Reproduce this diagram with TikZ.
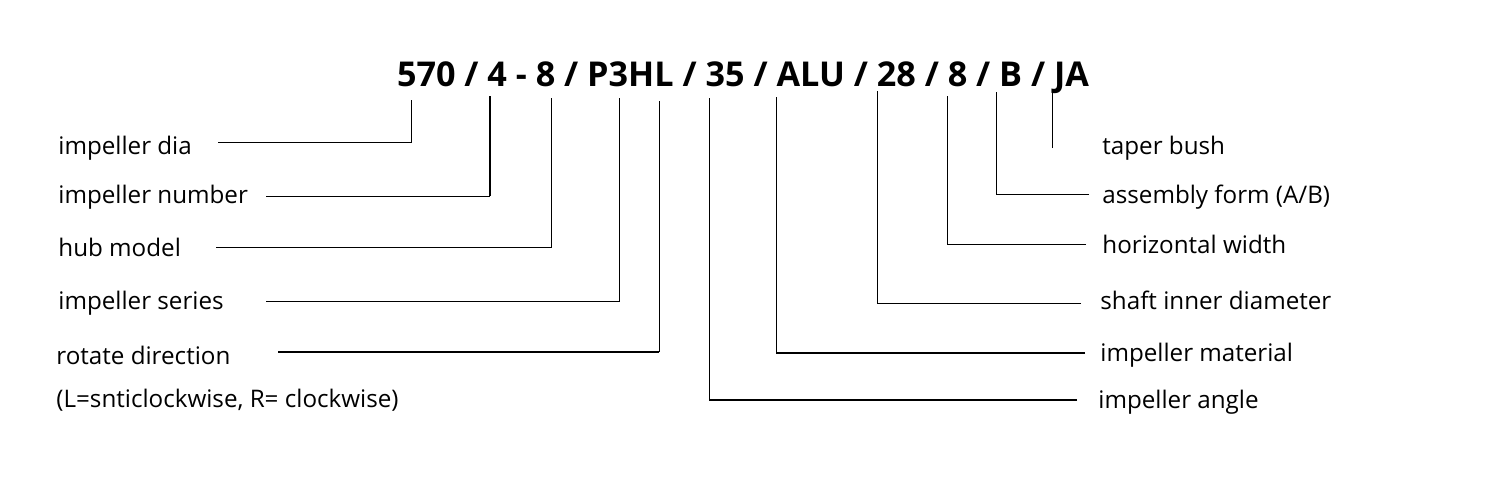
\documentclass[tikz,border=0pt]{standalone}
\usepackage{fontspec}
\setmainfont{Open Sans}
\usetikzlibrary{positioning}
\begin{document}
\begin{tikzpicture}[x=0.5pt,y=-0.5pt,
  lbl/.style={anchor=base west, inner sep=0pt, font=\fontsize{12.1}{14}\selectfont},
  lead/.style={line width=0.5pt},
  leadbold/.style={line width=1.3pt}]
  \useasboundingbox (0,0) rectangle (1500,500);

  % Type code
  \node[anchor=base, inner sep=0pt, font=\bfseries\fontsize{17.1}{20}\selectfont] (code) at (743,86) {570 / 4 - 8 / P3HL / 35 / ALU / 28 / 8 / B / JA};

  % Labels - left
  \node[lbl] (dia) at (58,154) {impeller dia};
  \node[lbl] (num) at (58,203) {impeller number};
  \node[lbl] (hub) at (58,256) {hub model};
  \node[lbl] (series) at (58,309) {impeller series};
  \node[lbl] (rotate) at (56,364) {rotate direction};
  \node[lbl] (rotnote) at (56,407) {(L=snticlockwise, R= clockwise)};

  % Labels - right
  \node[lbl] (bush) at (1102,154) {taper bush};
  \node[lbl] (form) at (1102,203) {assembly form (A/B)};
  \node[lbl] (width) at (1102,253) {horizontal width};
  \node[lbl] (shaft) at (1100,309) {shaft inner diameter};
  \node[lbl] (material) at (1100,361) {impeller material};
  \node[lbl] (angle) at (1098,408) {impeller angle};

  % Tick tops under the code
  \coordinate (tdia) at (411,100);
  \coordinate (tnum) at (490,96);
  \coordinate (thub) at (551,98);
  \coordinate (tseries) at (619,98);
  \coordinate (trotate) at (659,101);
  \coordinate (tangle) at (709,98);
  \coordinate (tmaterial) at (776,97);
  \coordinate (tshaft) at (877,91);
  \coordinate (twidth) at (947,96);
  \coordinate (tform) at (996,92);
  \coordinate (tbush) at (1052,92);

  % Line ends next to the labels
  \coordinate (sdia) at (218,142);
  \coordinate (snum) at (266,196);
  \coordinate (shub) at (216,247);
  \coordinate (sseries) at (266,301);
  \coordinate (srotate) at (278,352);
  \coordinate (sangle) at (1077,400);
  \coordinate (smaterial) at (1085,353);
  \coordinate (sshaft) at (1081,303);
  \coordinate (swidth) at (1086,244);
  \coordinate (sform) at (1089,194);
  \coordinate (sbush) at (1052,148);

  % Leaders
  \draw[lead] (sdia) -| (tdia);
  \draw[lead] (snum) -- (snum -| tnum);
  \draw[leadbold] (snum -| tnum) -- (tnum);
  \draw[lead] (shub) -| (thub);
  \draw[lead] (sseries) -| (tseries);
  \draw[leadbold] (srotate) -- (srotate -| trotate);
  \draw[lead] (srotate -| trotate) -- (trotate);
  \draw[leadbold] (sangle) -- (sangle -| tangle);
  \draw[lead] (sangle -| tangle) -- (tangle);
  \draw[leadbold] (smaterial) -- (smaterial -| tmaterial);
  \draw[lead] (smaterial -| tmaterial) -- (tmaterial);
  \draw[lead] (sshaft) -| (tshaft);
  \draw[lead] (swidth) -| (twidth);
  \draw[lead] (sform) -| (tform);
  \draw[lead] (sbush) -- (tbush);
\end{tikzpicture}
\end{document}
